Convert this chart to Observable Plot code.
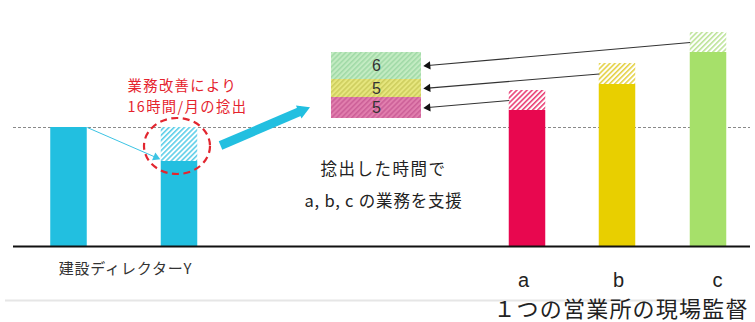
<!DOCTYPE html>
<html><head><meta charset="utf-8">
<script src="https://cdn.jsdelivr.net/npm/d3@7"></script>
<script src="https://cdn.jsdelivr.net/npm/@observablehq/plot@0.6"></script>
<style>html,body{margin:0;padding:0;background:#fff;} svg{display:block}</style>
</head><body><div id="chart"></div>
<script>
// ---------- data ----------
const personLabel = "建設ディレクターY";
const personHoursBefore = 59.5;   // director Y before improvement
const personHoursAfter = 42.5;    // after 16h/month released
const supervisors = ["a", "b", "c"];
const supervisorHours = [68, 81, 97];
const supportHours = [10, 10.5, 10];
const supervisorColors = ["#e8074f", "#e8cf00", "#a6e06a"];
const supportFills = ["url(#hatch-a)", "url(#hatch-b)", "url(#hatch-c)"];
const boxLabels = ["5", "5", "6"];            // bottom -> top
const boxHeights = [10.5, 9, 13.5];
const boxStart = 64;
const boxFills = ["url(#box-p)", "url(#box-y)", "url(#box-g)"];
const redNote = ["業務改善により", "16時間/月の捻出"];
const midNote = ["捻出した時間で", "a, b, c の業務を支援"];
const groupTitle = "１つの営業所の現場監督";

// ---------- layout ----------
const W = 755, H = 322;
const xDomain = [0, 151], yDomain = [-38, 123];
const kx = W / (xDomain[1] - xDomain[0]);
const ky = H / (yDomain[1] - yDomain[0]);
const barW = 7.3;
const personX = [13.7, 35.8];
const supX = [105.4, 123.4, 141.6];
const supLabelX = [104.6, 123.6, 143.4];
const boxX = [66.2, 84.2];
const lineX = [2.6, 150];
const sepY = -27, sepX = [1, 139.4];
const bigArrow = {x1: 44, y1: 50.5, x2: 63.2, y2: 71};
const cyan = "#22bfe0";

// ---------- derived tables ----------
const bars = [
  {x: personX[0], y1: 0, y2: personHoursBefore, fill: cyan},
  {x: personX[1], y1: 0, y2: personHoursAfter, fill: cyan},
  {x: personX[1], y1: personHoursAfter, y2: personHoursBefore, fill: "url(#hatch-cyan)"},
  ...supervisors.map((s, i) => ({x: supX[i], y1: 0, y2: supervisorHours[i], fill: supervisorColors[i]})),
  ...supervisors.map((s, i) => ({x: supX[i], y1: supervisorHours[i], y2: supervisorHours[i] + supportHours[i], fill: supportFills[i]}))
];
let acc = boxStart;
const box = boxHeights.map((h, i) => { const d = {y1: acc, y2: acc + h, label: boxLabels[i], fill: boxFills[i]}; acc += h; return d; });

const arrows = [
  ...supervisors.map((s, i) => ({
    x1: supX[i] - barW / 2, y1: supervisorHours[i] + supportHours[i] / 2,
    x2: boxX[1] + 0.3, y2: (box[i].y1 + box[i].y2) / 2,
    stroke: "#333", w: 1.1, r: 3.2
  })),
  {x1: personX[0] + barW / 2, y1: personHoursBefore, x2: personX[1] - barW / 2 - 0.1, y2: personHoursAfter + 1, stroke: "#3cc4e4", w: 1, r: 3.4},
  {...bigArrow, stroke: cyan, w: 9, r: 9.8}
];
function head(a) {
  const dxp = (a.x2 - a.x1) * kx, dyp = -(a.y2 - a.y1) * ky;
  const len = Math.hypot(dxp, dyp), ux = dxp / len, uy = dyp / len;
  const back = 1.555 * a.r;
  return {x: a.x2 - ux * back / kx, y: a.y2 + uy * back / ky,
          rotate: Math.atan2(uy, ux) * 180 / Math.PI + 90, r: a.r, fill: a.stroke === "#333" ? "#111" : a.stroke};
}
const heads = arrows.map(head);
const links = arrows.map((a, i) => ({...a, x2: heads[i].x, y2: heads[i].y}));

const ellipseMark = (index, scales) => {
  const e = document.createElementNS("http://www.w3.org/2000/svg", "ellipse");
  e.setAttribute("cx", scales.x(personX[1] - 0.4));
  e.setAttribute("cy", scales.y((personHoursBefore + personHoursAfter) / 2 - 1));
  e.setAttribute("rx", 33); e.setAttribute("ry", 28);
  e.setAttribute("fill", "none"); e.setAttribute("stroke", "#e2262f");
  e.setAttribute("stroke-width", 2.2); e.setAttribute("stroke-dasharray", "7 4.5");
  return e;
};

const font = "'Noto Sans CJK JP', 'Noto Sans', sans-serif";
const latin = "'Liberation Sans', Arial, sans-serif";
const plot = Plot.plot({
  width: W, height: H, margin: 0,
  x: {domain: xDomain, range: [0, W], axis: null},
  y: {domain: yDomain, range: [H, 0], axis: null},
  color: {type: "identity"},
  style: {background: "#fff", fontFamily: font},
  marks: [
    Plot.ruleY([personHoursBefore], {x1: lineX[0], x2: lineX[1], stroke: "#8a8a8a", strokeWidth: 1, strokeDasharray: "3,2"}),
    Plot.rect(bars, {x1: d => d.x - barW / 2, x2: d => d.x + barW / 2, y1: "y1", y2: "y2", fill: "fill"}),
    Plot.rect(box, {x1: boxX[0], x2: boxX[1], y1: "y1", y2: "y2", fill: "fill"}),
    Plot.ruleY([0], {x1: lineX[0], x2: lineX[1], stroke: "#111", strokeWidth: 2}),
    Plot.ruleY([sepY], {x1: sepX[0], x2: sepX[1], stroke: "#e6e6e6", strokeWidth: 2}),
    Plot.link(links, {x1: "x1", y1: "y1", x2: "x2", y2: "y2", stroke: "stroke", strokeWidth: "w"}),
    Plot.dot(heads, {x: "x", y: "y", r: "r", rotate: "rotate", symbol: "triangle", fill: "fill", stroke: null}),
    ellipseMark,
    Plot.text(box, {x: (boxX[0] + boxX[1]) / 2, y: d => (d.y1 + d.y2) / 2, text: "label", fontSize: 16, fill: "#333", fontFamily: latin}),
    Plot.text([redNote.join("\n")], {x: 25.4, y: 75.9, text: d => d, textAnchor: "start", lineHeight: 1.45, fontSize: 14.3, fill: "#e5232d"}),
    Plot.text(midNote, {x: 76.6, y: [38.3, 22.3], text: d => d, fontSize: 16.5, fill: "#222"}),
    Plot.text([personLabel], {x: 25, y: -11.5, text: d => d, fontSize: 15, fill: "#333"}),
    Plot.text(supervisors, {x: (d, i) => supLabelX[i], y: -17.05, text: d => d, fontSize: 20, fill: "#222", fontFamily: latin}),
    Plot.text([groupTitle], {x: 124.1, y: -31.5, text: d => d, fontSize: 22, fill: "#222"})
  ]
});

// pattern definitions
const pat = (id, bg, fg) => `<pattern id="${id}" width="3.6" height="3.6" patternUnits="userSpaceOnUse" patternTransform="rotate(45)"><rect width="3.6" height="3.6" fill="${bg}"/><line x1="0.8" y1="0" x2="0.8" y2="3.6" stroke="${fg}" stroke-width="1.5"/></pattern>`;
d3.select(plot).insert("defs", ":first-child").html(
  pat("hatch-cyan", "#ffffff", "#52cbe7") +
  pat("hatch-a", "#ffffff", "#e8336d") +
  pat("hatch-b", "#ffffff", "#e3cf3a") +
  pat("hatch-c", "#ffffff", "#b9e292") +
  pat("box-g", "#c3ebc2", "#9fd9a6") +
  pat("box-y", "#e6e67e", "#cccc5c") +
  pat("box-p", "#e17fae", "#cb5e97")
);
const spacing = {};
spacing[midNote[0]] = 1.5; spacing[midNote[1]] = 0.8; spacing[personLabel] = 0.8; spacing[groupTitle] = 1.2;
spacing[redNote.join("")] = 1.4;
d3.select(plot).selectAll("text").each(function () {
  const s = spacing[this.textContent];
  if (s) this.setAttribute("letter-spacing", s);
});
document.getElementById("chart").append(plot);
</script>
</body></html>
